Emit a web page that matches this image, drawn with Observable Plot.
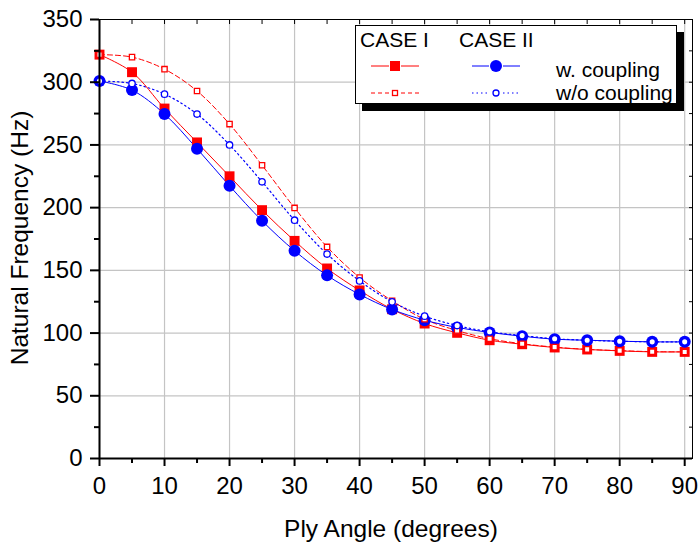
<!DOCTYPE html>
<html>
<head>
<meta charset="utf-8">
<script src="https://cdn.jsdelivr.net/npm/d3@7"></script>
<script src="https://cdn.jsdelivr.net/npm/@observablehq/plot@0.6"></script>
<style>
  body { margin: 0; background: white; }
  #wrap { position: relative; width: 699px; height: 542px; font-family: "Liberation Sans", Arial, sans-serif; }
  #wrap svg { display: block; }
  .abs { position: absolute; left: 0; top: 0; }
</style>
</head>
<body>
<div id="wrap"></div>
<script>
// ---- data ----
const angles = [0, 5, 10, 15, 20, 25, 30, 35, 40, 45, 50, 55, 60, 65, 70, 75, 80, 85, 90];
const caseIWith     = [322, 308, 279, 252, 225, 198, 173.5, 151.5, 134, 119, 107.6, 100.2, 94.3, 91.1, 88.5, 86.9, 85.8, 85, 85];
const caseIWithout  = [322, 320, 310.4, 293, 266.6, 233.8, 199.8, 168.7, 144.3, 125.7, 111, 102, 95.5, 91.5, 88.8, 87, 86, 85.2, 85];
const caseIIWith    = [301, 293.7, 274.6, 247, 217.4, 189.5, 165.6, 146, 130.8, 118.8, 110.3, 104.5, 100.5, 97.5, 95.1, 94.3, 93.5, 93, 93];
const caseIIWithout = [301, 299, 290.5, 274.6, 250, 220.6, 190, 163, 141.6, 124.9, 113.5, 106, 101, 98, 95.5, 94.3, 93.5, 93, 93];
const xMajor = [0, 10, 20, 30, 40, 50, 60, 70, 80, 90];
const xMinor = [5, 15, 25, 35, 45, 55, 65, 75, 85];
const yMajor = [0, 50, 100, 150, 200, 250, 300, 350];
const yMinor = [25, 75, 125, 175, 225, 275, 325];
const xLabel = "Ply Angle (degrees)";
const yLabel = "Natural Frequency (Hz)";

const toRows = (vals) => angles.map((a, i) => ({angle: a, freq: vals[i]}));
const cIw = toRows(caseIWith), cIwo = toRows(caseIWithout);
const cIIw = toRows(caseIIWith), cIIwo = toRows(caseIIWithout);

const RED = "#ff0000", BLUE = "#0000ff";
const curve = "catmull-rom";

const chart = Plot.plot({
  width: 699, height: 542,
  marginLeft: 99, marginRight: 7, marginTop: 19, marginBottom: 84,
  x: {domain: [0, 91.2]},
  y: {domain: [0, 350]},
  style: {fontFamily: "'Liberation Sans', Arial, sans-serif", fontSize: "24px", color: "black", background: "white", overflow: "visible"},
  marks: [
    Plot.gridX(xMajor, {stroke: "#c4c4c4", strokeOpacity: 1, strokeWidth: 1.2}),
    Plot.gridY(yMajor, {stroke: "#c4c4c4", strokeOpacity: 1, strokeWidth: 1.2}),
    Plot.frame({stroke: "black", strokeWidth: 1}),
    Plot.line(cIwo, {x: "angle", y: "freq", stroke: RED, strokeWidth: 1, strokeDasharray: "5,3", curve}),
    Plot.line(cIIwo, {x: "angle", y: "freq", stroke: BLUE, strokeWidth: 1.2, strokeDasharray: "1.5,3", curve}),
    Plot.line(cIw, {x: "angle", y: "freq", stroke: RED, strokeWidth: 1, curve}),
    Plot.line(cIIw, {x: "angle", y: "freq", stroke: BLUE, strokeWidth: 1, curve}),
    Plot.dot(cIw, {x: "angle", y: "freq", symbol: "square", r: 5.6, fill: RED, stroke: "none"}),
    Plot.dot(cIIw, {x: "angle", y: "freq", symbol: "circle", r: 6, fill: BLUE, stroke: "none"}),
    Plot.dot(cIwo, {x: "angle", y: "freq", symbol: "square", r: 3, fill: "white", stroke: RED, strokeWidth: 1.3}),
    Plot.dot(cIIwo, {x: "angle", y: "freq", symbol: "circle", r: 3.2, fill: "white", stroke: BLUE, strokeWidth: 1.3}),
    Plot.ruleX([0], {stroke: "black", strokeWidth: 2}),
    Plot.ruleY([0], {stroke: "black", strokeWidth: 2}),
    Plot.axisX(xMajor, {anchor: "bottom", tickSize: 8, tickPadding: 10, strokeWidth: 2, label: null, fontSize: 24}),
    Plot.axisX(xMinor, {anchor: "bottom", tickSize: 5, strokeWidth: 2, tickFormat: () => "", label: null}),
    Plot.axisY(yMajor, {anchor: "left", tickSize: 9, tickPadding: 8, strokeWidth: 2, label: null, fontSize: 24}),
    Plot.axisY(yMinor, {anchor: "left", tickSize: 5, strokeWidth: 2, tickFormat: () => "", label: null}),
    Plot.axisX(xMajor.concat(xMinor), {anchor: "top", tickSize: -4, strokeWidth: 1, tickFormat: () => "", label: null}),
    Plot.axisY(yMajor.concat(yMinor), {anchor: "right", tickSize: -4, strokeWidth: 1, tickFormat: () => "", label: null})
  ]
});

const wrap = document.getElementById("wrap");
wrap.appendChild(chart);

// ---- overlay: axis titles and legend ----
const ov = d3.select(wrap).append("svg")
  .attr("class", "abs")
  .attr("width", 699).attr("height", 542)
  .style("font-family", "'Liberation Sans', Arial, sans-serif")
  .style("pointer-events", "none");

ov.append("text").attr("x", 391).attr("y", 537).attr("text-anchor", "middle")
  .attr("font-size", 24.5).text(xLabel);
ov.append("text").attr("transform", "translate(28,238) rotate(-90)").attr("text-anchor", "middle")
  .attr("font-size", 24.5).text(yLabel);

const lg = ov.append("g");
lg.append("rect").attr("x", 362).attr("y", 32).attr("width", 322).attr("height", 79).attr("fill", "black");
lg.append("rect").attr("x", 355.5).attr("y", 25.5).attr("width", 321).attr("height", 78).attr("fill", "white").attr("stroke", "black").attr("stroke-width", 1);
lg.append("text").attr("x", 360).attr("y", 47).attr("font-size", 21).text("CASE I");
lg.append("text").attr("x", 459).attr("y", 47).attr("font-size", 21).text("CASE II");
lg.append("text").attr("x", 556).attr("y", 77).attr("font-size", 21).text("w. coupling");
lg.append("text").attr("x", 556).attr("y", 100).attr("font-size", 21).text("w/o coupling");
// row: w. coupling
lg.append("line").attr("x1", 371).attr("x2", 389).attr("y1", 66).attr("y2", 66).attr("stroke", RED);
lg.append("line").attr("x1", 401).attr("x2", 419).attr("y1", 66).attr("y2", 66).attr("stroke", RED);
lg.append("rect").attr("x", 390).attr("y", 61).attr("width", 10).attr("height", 10).attr("fill", RED);
lg.append("line").attr("x1", 472).attr("x2", 489).attr("y1", 66).attr("y2", 66).attr("stroke", BLUE);
lg.append("line").attr("x1", 503).attr("x2", 520).attr("y1", 66).attr("y2", 66).attr("stroke", BLUE);
lg.append("circle").attr("cx", 496).attr("cy", 66).attr("r", 6).attr("fill", BLUE);
// row: w/o coupling
lg.append("line").attr("x1", 371).attr("x2", 389).attr("y1", 93).attr("y2", 93).attr("stroke", RED).attr("stroke-dasharray", "4,3");
lg.append("line").attr("x1", 401).attr("x2", 419).attr("y1", 93).attr("y2", 93).attr("stroke", RED).attr("stroke-dasharray", "4,3");
lg.append("rect").attr("x", 392.5).attr("y", 90.5).attr("width", 5).attr("height", 5).attr("fill", "white").attr("stroke", RED).attr("stroke-width", 1.3);
lg.append("line").attr("x1", 472).attr("x2", 489).attr("y1", 93).attr("y2", 93).attr("stroke", BLUE).attr("stroke-dasharray", "1.5,3");
lg.append("line").attr("x1", 503).attr("x2", 520).attr("y1", 93).attr("y2", 93).attr("stroke", BLUE).attr("stroke-dasharray", "1.5,3");
lg.append("circle").attr("cx", 496).attr("cy", 93).attr("r", 3).attr("fill", "white").attr("stroke", BLUE).attr("stroke-width", 1.3);
</script>
</body>
</html>
